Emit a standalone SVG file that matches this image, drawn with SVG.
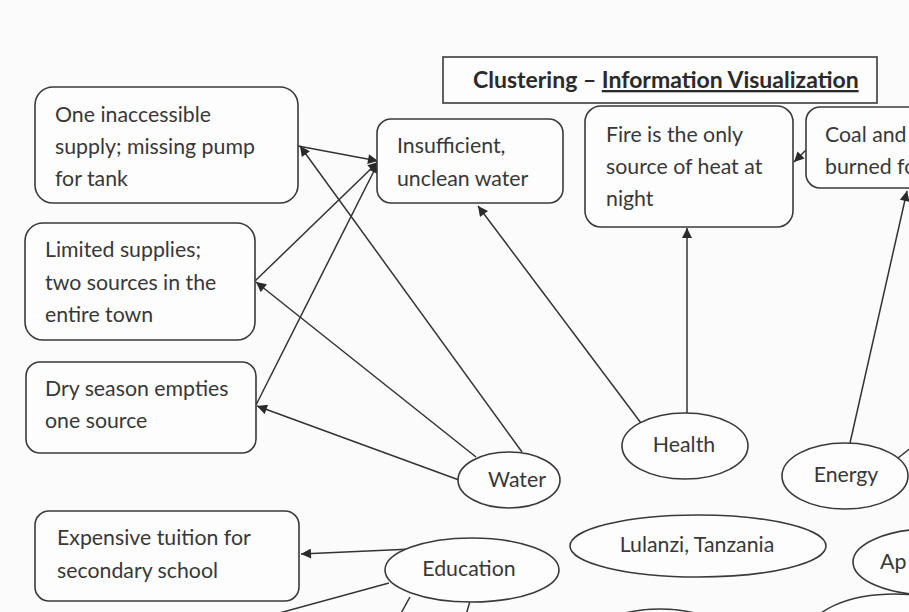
<svg xmlns="http://www.w3.org/2000/svg" width="909" height="612" viewBox="0 0 909 612">
<defs>
<style>
.box{fill:#fdfdfd;stroke:#3a3a3a;stroke-width:1.6}
.ell{fill:#fdfdfd;stroke:#3a3a3a;stroke-width:1.6}
.t{font-family:Lato,"Liberation Sans",sans-serif;font-size:21.3px;fill:#383838}
.c{text-anchor:middle}
.ln{stroke:#333;stroke-width:1.5;fill:none}
.ttl{font-family:Lato,"Liberation Sans",sans-serif;font-size:23px;font-weight:bold;fill:#2a2a2a}
</style>
<marker id="ah" viewBox="0 0 10 10" refX="10" refY="5" markerWidth="11" markerHeight="10" markerUnits="userSpaceOnUse" orient="auto">
<path d="M0,0 L10,5 L0,10 z" fill="#2a2a2a"/>
</marker>
</defs>
<rect width="909" height="612" fill="#fbfbfb"/>
<g id="title">
<rect x="443" y="57" width="434" height="46" fill="#fdfdfd" stroke="#3a3a3a" stroke-width="1.6"/>
<text class="ttl" x="473" y="88">Clustering – <tspan text-decoration="underline">Information Visualization</tspan></text>
</g>
<g id="connectors">
<line class="ln" x1="522" y1="452" x2="300" y2="146" marker-end="url(#ah)"/>
<line class="ln" x1="298" y1="146" x2="378" y2="161" marker-end="url(#ah)"/>
<line class="ln" x1="255" y1="281" x2="378" y2="162" marker-end="url(#ah)"/>
<line class="ln" x1="256" y1="405" x2="378" y2="163" marker-end="url(#ah)"/>
<line class="ln" x1="476" y1="457" x2="256" y2="282" marker-end="url(#ah)"/>
<line class="ln" x1="459" y1="480" x2="257" y2="406" marker-end="url(#ah)"/>
<line class="ln" x1="641" y1="423" x2="478" y2="206" marker-end="url(#ah)"/>
<line class="ln" x1="687" y1="413" x2="687" y2="228" marker-end="url(#ah)"/>
<line class="ln" x1="850" y1="443" x2="907" y2="191" marker-end="url(#ah)"/>
<line class="ln" x1="806" y1="150" x2="794" y2="162" marker-end="url(#ah)"/>
<line class="ln" x1="898" y1="458" x2="912" y2="447"/>
<line class="ln" x1="412" y1="549" x2="301" y2="554" marker-end="url(#ah)"/>
<line class="ln" x1="389" y1="583" x2="272" y2="615"/>
<line class="ln" x1="410" y1="597" x2="400" y2="615"/>
<line class="ln" x1="470" y1="601" x2="466" y2="615"/>
</g>
<g id="n-inaccessible">
<rect class="box" x="35" y="87" width="263" height="116" rx="18"/>
<text class="t" x="55" y="122">One inaccessible</text>
<text class="t" x="55" y="154">supply; missing pump</text>
<text class="t" x="55" y="186">for tank</text>
</g>
<g id="n-limited">
<rect class="box" x="25" y="223" width="230" height="117" rx="18"/>
<text class="t" x="45" y="257">Limited supplies;</text>
<text class="t" x="45" y="290">two sources in the</text>
<text class="t" x="45" y="322">entire town</text>
</g>
<g id="n-dry">
<rect class="box" x="26" y="362" width="230" height="91" rx="14"/>
<text class="t" x="45" y="396">Dry season empties</text>
<text class="t" x="45" y="428">one source</text>
</g>
<g id="n-insufficient">
<rect class="box" x="377" y="119" width="186" height="84" rx="14"/>
<text class="t" x="397" y="153">Insufficient,</text>
<text class="t" x="397" y="186">unclean water</text>
</g>
<g id="n-fire">
<rect class="box" x="585" y="106" width="208" height="121" rx="16"/>
<text class="t" x="606" y="142">Fire is the only</text>
<text class="t" x="606" y="174">source of heat at</text>
<text class="t" x="606" y="206">night</text>
</g>
<g id="n-coal">
<rect class="box" x="806" y="107" width="140" height="81" rx="14"/>
<text class="t" x="825" y="142">Coal and</text>
<text class="t" x="825" y="174">burned fo</text>
</g>
<g id="n-tuition">
<rect class="box" x="35" y="511" width="264" height="90" rx="14"/>
<text class="t" x="57" y="545">Expensive tuition for</text>
<text class="t" x="57" y="578">secondary school</text>
</g>
<g id="n-water">
<ellipse class="ell" cx="509" cy="480" rx="51" ry="28"/>
<text class="t c" x="517" y="487">Water</text>
</g>
<g id="n-health">
<ellipse class="ell" cx="685" cy="446" rx="63" ry="33"/>
<text class="t c" x="684" y="452">Health</text>
</g>
<g id="n-energy">
<ellipse class="ell" cx="845" cy="476" rx="63" ry="33"/>
<text class="t c" x="846" y="482">Energy</text>
</g>
<g id="n-lulanzi">
<ellipse class="ell" cx="698" cy="546" rx="128" ry="31"/>
<text class="t c" x="697" y="552">Lulanzi, Tanzania</text>
</g>
<g id="n-education">
<ellipse class="ell" cx="472" cy="570" rx="87" ry="32"/>
<text class="t c" x="469" y="576">Education</text>
</g>
<g id="n-ap">
<ellipse class="ell" cx="930" cy="562" rx="77" ry="33"/>
<text class="t" x="880" y="569">Ap</text>
</g>
<g id="n-bottom-mid">
<ellipse class="ell" cx="660" cy="640" rx="70" ry="31"/>
</g>
<g id="n-bottom-right">
<ellipse class="ell" cx="895" cy="632" rx="85" ry="38"/>
</g>
</svg>
